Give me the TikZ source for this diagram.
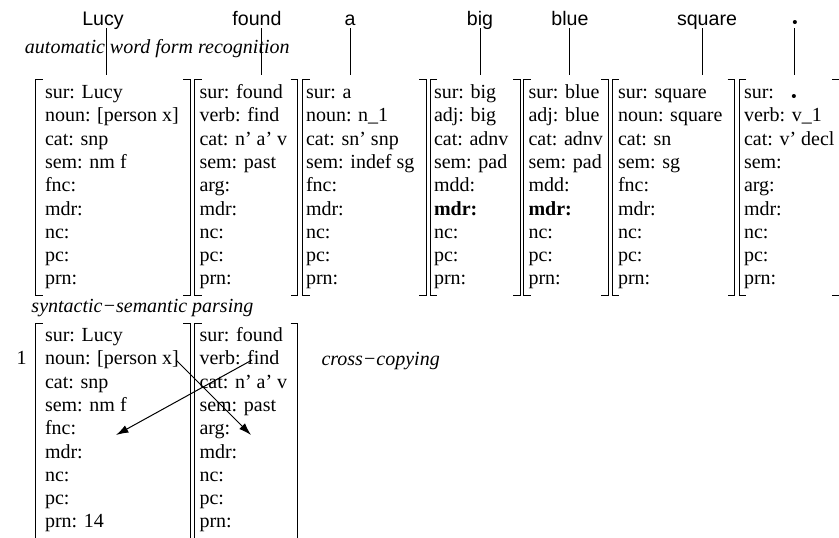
\documentclass[tikz,border=0pt]{standalone}
\usepackage{fontspec}
\setmainfont{Liberation Serif}
\newfontfamily\wordfont{Liberation Sans}
\usetikzlibrary{arrows.meta}

% one proplet: a column of attribute rows, baselines 23.3 units apart
\newcommand\featcard[4]{%
  \foreach \entry [count=\i] in {#4} {
    \node[row] (#1-\i) at (#2, {#3+23.3*(\i-1)}) {\entry};
  }%
}
% square brackets round a proplet
\newcommand\lbrk[3]{\draw[brk] (#1+7,#2) -- (#1,#2) -- (#1,#3) -- (#1+7,#3);}
\newcommand\rbrk[3]{\draw[brk] (#1-7,#2) -- (#1,#2) -- (#1,#3) -- (#1-7,#3);}

\begin{document}
\begin{tikzpicture}[x=0.5pt,y=-0.5pt,
  every node/.style={inner sep=0pt, outer sep=0pt},
  row/.style={anchor=base west, font=\fontsize{10}{12}\selectfont},
  word/.style={anchor=base, font=\wordfont\fontsize{9.8}{12}\selectfont, text depth=0pt},
  caption/.style={anchor=base west, font=\fontsize{10}{12}\selectfont\itshape},
  bigdot/.style={anchor=base, font=\wordfont\fontsize{7.5}{8}\selectfont},
  brk/.style={line width=0.5pt},
  link/.style={line width=0.5pt},
  copyarrow/.style={line width=0.5pt, -{Latex[length=6.2pt,width=4pt]}}
]
\useasboundingbox (0,0) rectangle (839,537);
\clip (0,0) rectangle (839,537);

% surface words
\node[word] (wLucy)   at (103,25) {Lucy};
\node[word] (wfound)  at (257,25) {found};
\node[word] (wa)      at (350,25) {a};
\node[word] (wbig)    at (480,25) {big};
\node[word] (wblue)   at (570,25) {blue};
\node[word] (wsquare) at (707,25) {square};
\node[bigdot] (wdot)  at (795,27.8) {•};

\node[caption] (recog) at (25,53) {automatic word form recognition};

% attachment points on top of the proplets
\coordinate (tLucy)   at (106,75);
\coordinate (tfound)  at (261,75);
\coordinate (ta)      at (350,75);
\coordinate (tbig)    at (480,75);
\coordinate (tblue)   at (569,75);
\coordinate (tsquare) at (702,75);
\coordinate (tdot)    at (794.5,75);

\foreach \w in {Lucy,found,a,big,blue,square}
  \draw[link] ([yshift=-1.5pt]w\w.south -| t\w) -- (t\w);
\draw[link] (794.5,28) -- (tdot);

% lexical proplets
\featcard{pLucy}{45}{98.5}{sur: Lucy,noun: [person x],cat: snp,sem: nm f,fnc:,mdr:,nc:,pc:,prn:}
\featcard{pfound}{199.5}{98.5}{sur: found,verb: find,cat: n' a' v,sem: past,arg:,mdr:,nc:,pc:,prn:}
\featcard{pa}{306}{98.5}{sur: a,noun: n\_1,cat: sn' snp,sem: indef sg,fnc:,mdr:,nc:,pc:,prn:}
\featcard{pbig}{434}{98.5}{sur: big,adj: big,cat: adnv,sem: pad,mdd:,\textbf{mdr:},nc:,pc:,prn:}
\featcard{pblue}{528.5}{98.5}{sur: blue,adj: blue,cat: adnv,sem: pad,mdd:,\textbf{mdr:},nc:,pc:,prn:}
\featcard{psquare}{618}{98.5}{sur: square,noun: square,cat: sn,sem: sg,fnc:,mdr:,nc:,pc:,prn:}
\featcard{pdot}{744}{98.5}{sur:,verb: v\_1,cat: v' decl,sem:,arg:,mdr:,nc:,pc:,prn:}
\node[bigdot] (surdot) at (794,101.8) {•};

\lbrk{35.5}{79}{295}  \rbrk{190}{79}{295}
\lbrk{194.5}{79}{295} \rbrk{297.5}{79}{295}
\lbrk{302.5}{79}{295} \rbrk{426}{79}{295}
\lbrk{430}{79}{295}   \rbrk{520}{79}{295}
\lbrk{523.5}{79}{295} \rbrk{608}{79}{295}
\lbrk{612}{79}{295}   \rbrk{734.5}{79}{295}
\lbrk{739}{79}{295}   \rbrk{839}{79}{295}

\node[caption] (parse) at (31.5,312) {syntactic−semantic parsing};

% first step of the parse
\node[row, anchor=base] (step) at (21.7,364.8) {1};
\featcard{qLucy}{45}{341.5}{sur: Lucy,noun: [person x],cat: snp,sem: nm f,fnc:,mdr:,nc:,pc:,prn: 14}
\featcard{qfound}{199.5}{341.5}{sur: found,verb: find,cat: n' a' v,sem: past,arg:,mdr:,nc:,pc:,prn:}

\lbrk{35.5}{323}{560}  \rbrk{190}{323}{560}
\lbrk{194.5}{323}{560} \rbrk{297.5}{323}{560}

\node[caption] (cross) at (321.5,365) {cross−copying};

% cross-copying of the values
\coordinate (nounval) at (176,360);
\coordinate (argslot) at (251,435);
\coordinate (verbval) at (252,360);
\coordinate (fncslot) at (116,435);
\draw[copyarrow] (nounval) -- (argslot);
\draw[copyarrow] (verbval) -- (fncslot);
\end{tikzpicture}
\end{document}
